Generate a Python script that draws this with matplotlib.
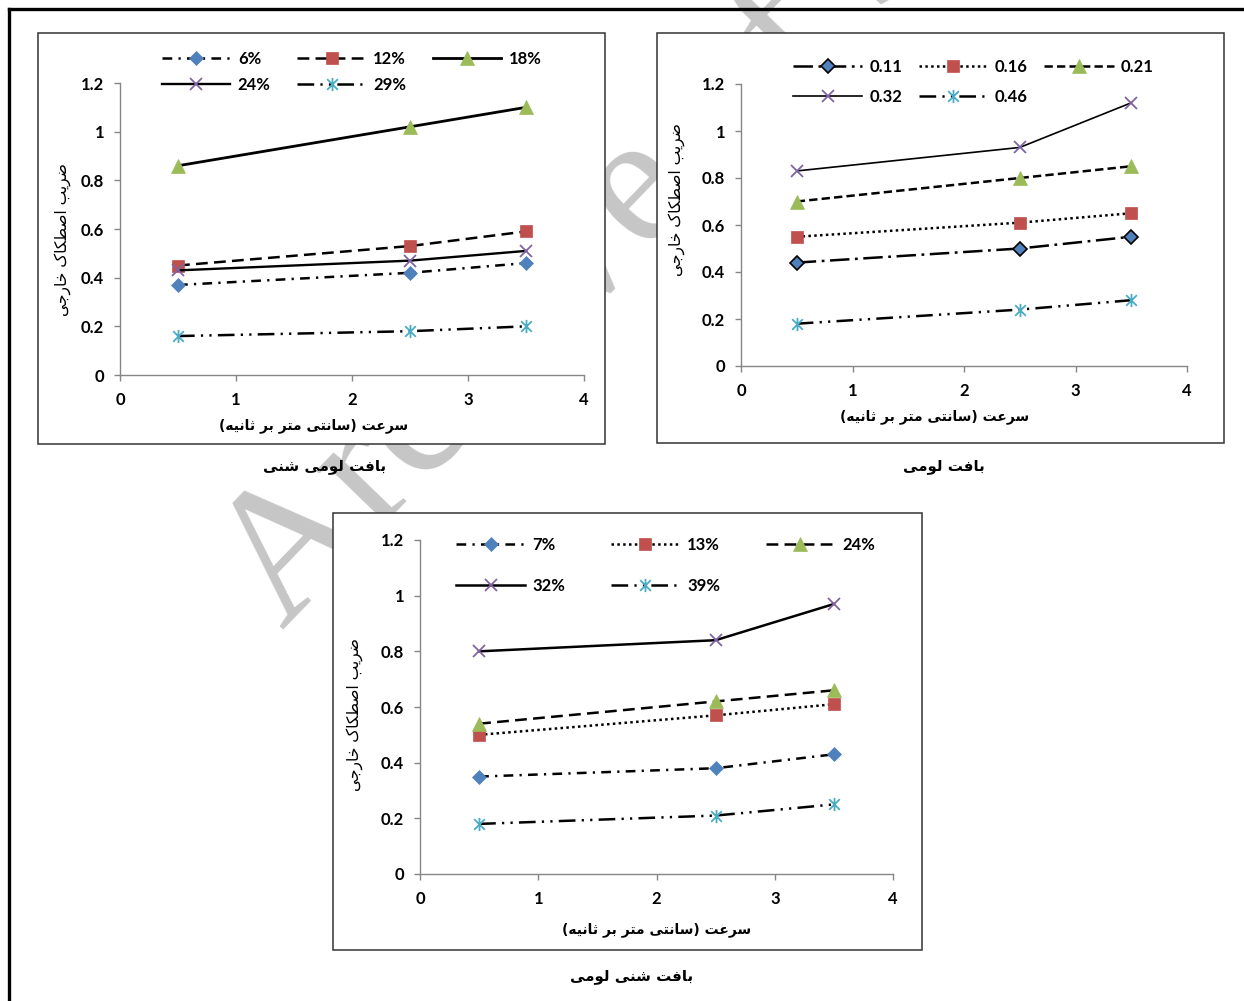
import matplotlib
matplotlib.use("Agg")
import matplotlib.pyplot as plt
from matplotlib.path import Path
from matplotlib.patches import Rectangle
from matplotlib.lines import Line2D

plt.rcParams['font.family'] = ['Lato', 'DejaVu Sans']
plt.rcParams['lines.scale_dashes'] = False

# ---------------- data ----------------
speed = [0.5, 2.5, 3.5]
x_ticks = [0, 1, 2, 3, 4]
y_ticks = [0, 0.2, 0.4, 0.6, 0.8, 1.0, 1.2]
y_tick_labels = ['0', '0.2', '0.4', '0.6', '0.8', '1', '1.2']

chart1_labels = ['6%', '12%', '18%', '24%', '29%']
chart1_values = [[0.37, 0.42, 0.46],
                 [0.45, 0.53, 0.59],
                 [0.86, 1.02, 1.10],
                 [0.43, 0.47, 0.51],
                 [0.16, 0.18, 0.20]]

chart2_labels = ['0.11', '0.16', '0.21', '0.32', '0.46']
chart2_values = [[0.44, 0.50, 0.55],
                 [0.55, 0.61, 0.65],
                 [0.70, 0.80, 0.85],
                 [0.83, 0.93, 1.12],
                 [0.18, 0.24, 0.28]]

chart3_labels = ['7%', '13%', '24%', '32%', '39%']
chart3_values = [[0.35, 0.38, 0.43],
                 [0.50, 0.57, 0.61],
                 [0.54, 0.62, 0.66],
                 [0.80, 0.84, 0.97],
                 [0.18, 0.21, 0.25]]

ylabel_text = 'ضریب اصطکاک خارجی'
xlabel_text = 'سرعت (سانتی متر بر ثانیه)'
titles = ['بافت لومی شنی', 'بافت لومی', 'بافت شنی لومی']

# ---------------- simple Persian shaping ----------------
FORMS = {
    'ا': ('\uFE8D', '\uFE8E', None, None),
    'ب': ('\uFE8F', '\uFE90', '\uFE91', '\uFE92'),
    'ت': ('\uFE95', '\uFE96', '\uFE97', '\uFE98'),
    'ث': ('\uFE99', '\uFE9A', '\uFE9B', '\uFE9C'),
    'ج': ('\uFE9D', '\uFE9E', '\uFE9F', '\uFEA0'),
    'خ': ('\uFEA5', '\uFEA6', '\uFEA7', '\uFEA8'),
    'ر': ('\uFEAD', '\uFEAE', None, None),
    'س': ('\uFEB1', '\uFEB2', '\uFEB3', '\uFEB4'),
    'ش': ('\uFEB5', '\uFEB6', '\uFEB7', '\uFEB8'),
    'ص': ('\uFEB9', '\uFEBA', '\uFEBB', '\uFEBC'),
    'ض': ('\uFEBD', '\uFEBE', '\uFEBF', '\uFEC0'),
    'ط': ('\uFEC1', '\uFEC2', '\uFEC3', '\uFEC4'),
    'ع': ('\uFEC9', '\uFECA', '\uFECB', '\uFECC'),
    'ف': ('\uFED1', '\uFED2', '\uFED3', '\uFED4'),
    'ل': ('\uFEDD', '\uFEDE', '\uFEDF', '\uFEE0'),
    'م': ('\uFEE1', '\uFEE2', '\uFEE3', '\uFEE4'),
    'ن': ('\uFEE5', '\uFEE6', '\uFEE7', '\uFEE8'),
    'ه': ('\uFEE9', '\uFEEA', '\uFEEB', '\uFEEC'),
    'و': ('\uFEED', '\uFEEE', None, None),
    'ک': ('\uFB8E', '\uFB8F', '\uFB90', '\uFB91'),
    'ی': ('\uFBFC', '\uFBFD', '\uFBFE', '\uFBFF'),
}


def shape(text):
    out = []
    n = len(text)
    for i, ch in enumerate(text):
        if ch not in FORMS:
            out.append(ch)
            continue
        f = FORMS[ch]
        prev = text[i - 1] if i > 0 else None
        nxt = text[i + 1] if i < n - 1 else None
        jp = prev in FORMS and FORMS[prev][2] is not None
        jn = nxt in FORMS and f[2] is not None
        if jp and jn:
            out.append(f[3])
        elif jp:
            out.append(f[1])
        elif jn:
            out.append(f[2])
        else:
            out.append(f[0])
    vis = ''.join(reversed(out))
    vis = vis.translate(str.maketrans('()', ')('))
    return vis


# ---------------- styles ----------------
BLUE, RED, GREEN, PURPLE, CYAN = '#4F81BD', '#C0504D', '#9BBB59', '#8064A2', '#4BACC6'
star = Path([(-0.5, -0.5), (0.5, 0.5), (-0.5, 0.5), (0.5, -0.5), (0, -0.62), (0, 0.62)],
            [Path.MOVETO, Path.LINETO, Path.MOVETO, Path.LINETO, Path.MOVETO, Path.LINETO])

DASHDOT = (0, (7, 4.5, 1.6, 4.5))
DASHED = (0, (8.5, 4.5))
LDASHDD = (0, (12, 4.5, 1.6, 4.5, 1.6, 4.5))
LDASHDOT = (0, (14, 4, 2, 4))
DOTTED = (0, (1.8, 2.4))
SDASHED = (0, (6, 3))

mk = [dict(marker='D', ms=6.8, mfc=BLUE, mec=BLUE, mew=0.5),
      dict(marker='s', ms=9.3, mfc=RED, mec=RED, mew=0.5),
      dict(marker='^', ms=10.5, mfc=GREEN, mec=GREEN, mew=0.5),
      dict(marker='x', ms=9, mec=PURPLE, mew=1.3),
      dict(marker=star, ms=9.5, mec=CYAN, mew=1.3)]

chart1_styles = [DASHDOT, DASHED, '-', '-', LDASHDD]
chart1_lw = [1.8, 1.8, 2.0, 1.7, 1.8]
chart2_styles = [LDASHDOT, DOTTED, SDASHED, '-', LDASHDD]
chart2_lw = [1.8, 1.8, 1.8, 1.2, 1.8]
chart3_styles = [DASHDOT, DOTTED, DASHED, '-', LDASHDD]
chart3_lw = [1.8, 1.8, 1.8, 1.8, 1.8]

W, H = 1244, 1001
fig = plt.figure(figsize=(W / 100, H / 100), dpi=100)


def fx(x):
    return x / W


def fy(y):
    return 1 - y / H


# watermark (behind chart boxes)
fig.text(fx(283), fy(631), 'Archive of SID', fontsize=135, color='#c6c6c6',
         family='Liberation Serif', rotation=46, rotation_mode='anchor',
         ha='left', va='baseline', zorder=-3)

# outer frame
fig.add_artist(Line2D([fx(9), 1], [fy(9), fy(9)], color='black', lw=2.4, zorder=-1))
fig.add_artist(Line2D([fx(9), fx(9)], [fy(9), 0], color='black', lw=2.4, zorder=-1))

charts = [
    dict(box=(38, 33, 605, 444), ax=(120, 83, 584, 375), labels=chart1_labels,
         values=chart1_values, styles=chart1_styles, lw=chart1_lw, diamond_edge=None,
         leg=(162, 51), hl=4.1, htp=0.45, cs=1.6, ls=0.6,
         xl=(314, 426), yl=(63, 240), title=(325, 466)),
    dict(box=(657, 33, 1224, 443), ax=(741, 84, 1187, 366), labels=chart2_labels,
         values=chart2_values, styles=chart2_styles, lw=chart2_lw, diamond_edge='black',
         leg=(793, 59), hl=4.15, htp=0.42, cs=1.0, ls=0.85,
         xl=(935, 417), yl=(677, 200), title=(944, 466)),
    dict(box=(333, 513, 922, 950), ax=(420, 540, 893, 874), labels=chart3_labels,
         values=chart3_values, styles=chart3_styles, lw=chart3_lw, diamond_edge=None,
         leg=(456, 537), hl=4.15, htp=0.42, cs=2.75, ls=1.5,
         xl=(657, 930), yl=(355, 715), title=(632, 976)),
]

GRAY = '#868686'
FS = 12
for c in charts:
    x0, y0, x1, y1 = c['box']
    fig.add_artist(Rectangle((fx(x0), fy(y1)), (x1 - x0) / W, (y1 - y0) / H,
                             transform=fig.transFigure, facecolor='white',
                             edgecolor='#333333', lw=1.1, zorder=-2))
    l, t, r, b = c['ax']
    ax = fig.add_axes([fx(l), fy(b), (r - l) / W, (b - t) / H])
    ax.patch.set_alpha(0)
    ax.set_xlim(0, 4)
    ax.set_ylim(0, 1.2)
    ax.set_xticks(x_ticks)
    ax.set_xticklabels([str(v) for v in x_ticks])
    ax.set_yticks(y_ticks)
    ax.set_yticklabels(y_tick_labels)
    for s in ('top', 'right'):
        ax.spines[s].set_visible(False)
    for s in ('left', 'bottom'):
        ax.spines[s].set_color(GRAY)
        ax.spines[s].set_linewidth(1.0)
    ax.tick_params(axis='both', direction='out', length=4.5, width=1.0, color=GRAY,
                   labelsize=FS)
    ax.tick_params(axis='x', pad=8)
    ax.tick_params(axis='y', pad=7)
    for lab in ax.get_xticklabels() + ax.get_yticklabels():
        lab.set_fontweight('bold')

    handles = []
    for i, (name, vals) in enumerate(zip(c['labels'], c['values'])):
        kw = dict(mk[i])
        if i == 0 and c['diamond_edge']:
            kw['mec'] = c['diamond_edge']
            kw['mew'] = 1.2
        h, = ax.plot(speed, vals, color='black', linestyle=c['styles'][i],
                     lw=c['lw'][i], label=name, clip_on=False, **kw)
        handles.append(h)
    order = [0, 3, 1, 4, 2]
    lx, ly = c['leg']
    ax.legend([handles[k] for k in order], [c['labels'][k] for k in order],
              ncol=3, loc='upper left', bbox_to_anchor=(fx(lx), fy(ly)),
              bbox_transform=fig.transFigure, frameon=False, borderpad=0,
              borderaxespad=0, handlelength=c['hl'], handletextpad=c['htp'],
              columnspacing=c['cs'], labelspacing=c['ls'], numpoints=1,
              prop=dict(size=FS, weight='bold'))

    fig.text(fx(c['xl'][0]), fy(c['xl'][1]), shape(xlabel_text), ha='center', va='center',
             fontsize=10, fontweight='bold', family=['DejaVu Sans'])
    fig.text(fx(c['yl'][0]), fy(c['yl'][1]), shape(ylabel_text), ha='center', va='center',
             fontsize=11.2, rotation=90, family=['DejaVu Sans'])

for c, tt in zip(charts, titles):
    fig.text(fx(c['title'][0]), fy(c['title'][1]), shape(tt), ha='center', va='center',
             fontsize=10.8, fontweight='bold', family=['DejaVu Sans'])

fig.savefig('out.png', dpi=100)
